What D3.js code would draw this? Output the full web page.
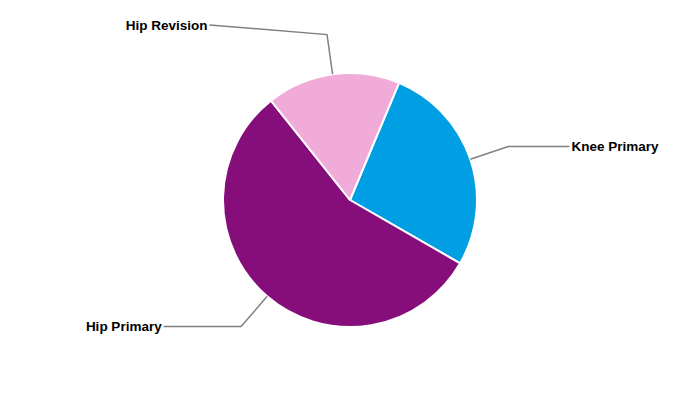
<!DOCTYPE html>
<html><head><meta charset="utf-8">
<script src="https://cdn.jsdelivr.net/npm/d3@7"></script>
<style>html,body{margin:0;padding:0;background:#fff;}</style>
</head><body>
<svg id="chart" width="700" height="400"></svg>
<script>
const categories = ["Knee Primary", "Hip Primary", "Hip Revision"];
const values = [27, 56, 17];
const colors = ["#009fe3", "#860e7a", "#f1abd9"];

const W = 700, H = 400, cx = 350, cy = 200, r = 127;
const startDeg = 22.7;
const svg = d3.select("#chart");
const g = svg.append("g").attr("transform", `translate(${cx},${cy})`);

const data = categories.map((c, i) => ({ name: c, value: values[i], color: colors[i] }));
const pie = d3.pie().value(d => d.value).sort(null)
  .startAngle(startDeg * Math.PI / 180)
  .endAngle(startDeg * Math.PI / 180 + 2 * Math.PI);
const arcs = pie(data);
const arc = d3.arc().innerRadius(0).outerRadius(r);

g.selectAll("path.slice").data(arcs).enter().append("path")
  .attr("class", "slice")
  .attr("d", arc)
  .attr("fill", d => d.data.color)
  .attr("stroke", "#fff")
  .attr("stroke-width", 2)
  .attr("stroke-linejoin", "round");

const R = 222;
const pt = (a, rad) => [Math.sin(a) * rad, -Math.cos(a) * rad];
arcs.forEach(d => {
  const mid = (d.startAngle + d.endAngle) / 2;
  const p0 = pt(mid, r);
  const p1 = pt(mid, r + 40);
  let ly = p1[1];
  if (ly < -r) ly = ly - (-r - ly) * 0.25;
  const left = p1[0] < 0;
  const lx = (left ? -1 : 1) * (Math.sqrt(Math.max(0, R * R - ly * ly)) + 4);
  g.append("path")
    .attr("d", d3.line()([p0, p1, [lx, ly]]))
    .attr("fill", "none")
    .attr("stroke", "#808080")
    .attr("stroke-width", 1.5);
  g.append("text")
    .attr("x", lx + (left ? -2 : 2))
    .attr("y", ly)
    .attr("dy", "0.35em")
    .attr("text-anchor", left ? "end" : "start")
    .attr("font-family", "'Liberation Sans', Arial, sans-serif")
    .attr("font-size", "13.5px")
    .attr("font-weight", "bold")
    .attr("fill", "#000")
    .text(d.data.name);
});
</script>
</body></html>
